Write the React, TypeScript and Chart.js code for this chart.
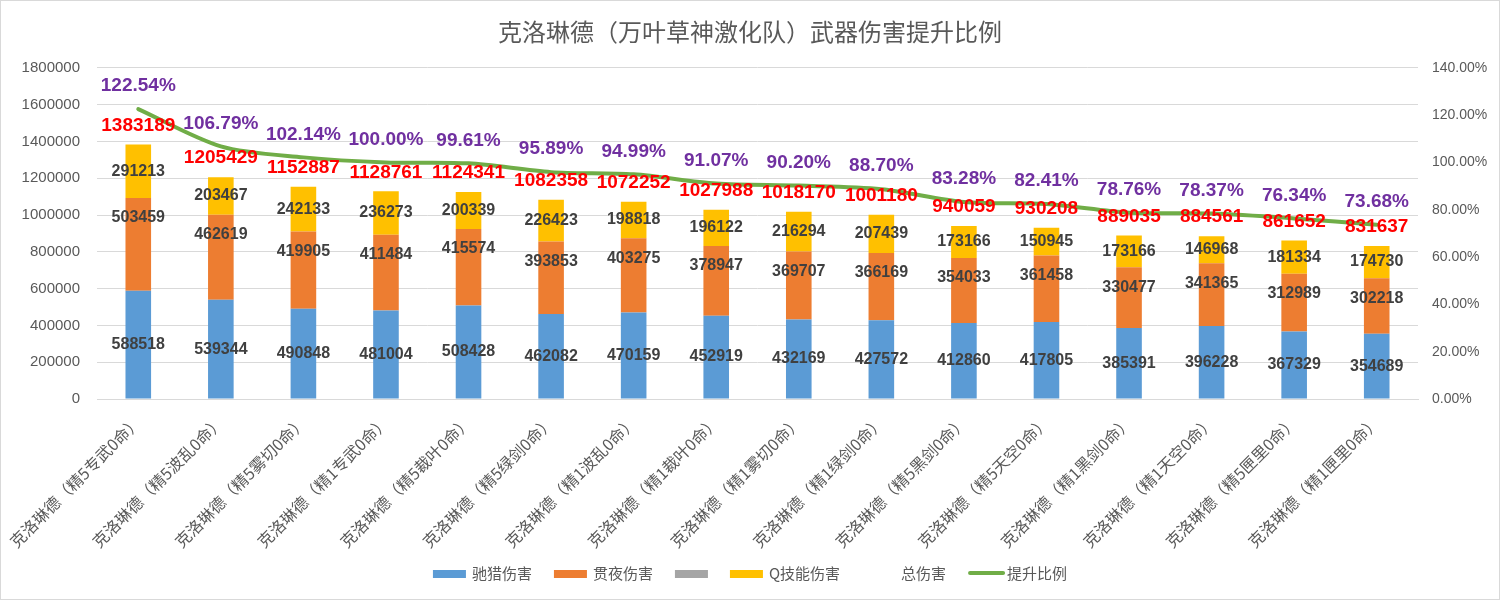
import React, { useEffect, useRef } from "react";
import { Chart, registerables } from "chart.js";

Chart.register(...registerables);

const categories = [
  "克洛琳德（精5专武0命）",
  "克洛琳德（精5波乱0命）",
  "克洛琳德（精5雾切0命）",
  "克洛琳德（精1专武0命）",
  "克洛琳德（精5裁叶0命）",
  "克洛琳德（精5绿剑0命）",
  "克洛琳德（精1波乱0命）",
  "克洛琳德（精1裁叶0命）",
  "克洛琳德（精1雾切0命）",
  "克洛琳德（精1绿剑0命）",
  "克洛琳德（精5黑剑0命）",
  "克洛琳德（精5天空0命）",
  "克洛琳德（精1黑剑0命）",
  "克洛琳德（精1天空0命）",
  "克洛琳德（精5匣里0命）",
  "克洛琳德（精1匣里0命）",
];

const chiLieDamage = [588518, 539344, 490848, 481004, 508428, 462082, 470159, 452919, 432169, 427572, 412860, 417805, 385391, 396228, 367329, 354689];
const guanYeDamage = [503459, 462619, 419905, 411484, 415574, 393853, 403275, 378947, 369707, 366169, 354033, 361458, 330477, 341365, 312989, 302218];
const grayDamage = [0, 0, 0, 0, 0, 0, 0, 0, 0, 0, 0, 0, 0, 0, 0, 0];
const qSkillDamage = [291213, 203467, 242133, 236273, 200339, 226423, 198818, 196122, 216294, 207439, 173166, 150945, 173166, 146968, 181334, 174730];
const totalDamage = [1383189, 1205429, 1152887, 1128761, 1124341, 1082358, 1072252, 1027988, 1018170, 1001180, 940059, 930208, 889035, 884561, 861652, 831637];
const boostRatio = [122.54, 106.79, 102.14, 100.0, 99.61, 95.89, 94.99, 91.07, 90.2, 88.7, 83.28, 82.41, 78.76, 78.37, 76.34, 73.68];

const leftAxisMax = 1800000;
const leftAxisStep = 200000;
const rightAxisMax = 140;
const rightAxisStep = 20;

const TITLE = "克洛琳德（万叶草神激化队）武器伤害提升比例";
const LATIN = "'Liberation Sans', 'Noto Sans CJK SC', sans-serif";
const CJK = "'Noto Sans CJK SC', 'Liberation Sans', sans-serif";

const COLORS = {
  chiLie: "#5b9bd5",
  guanYe: "#ed7d31",
  gray: "#a5a5a5",
  q: "#ffc000",
  ratio: "#70ad47",
  total: "#ff0000",
  ratioLabel: "#7030a0",
  text: "#595959",
  inner: "#404040",
  grid: "#d9d9d9",
};

const bgPlugin = {
  id: "bgBorder",
  beforeDraw(chart: any) {
    const { ctx, width, height } = chart;
    ctx.save();
    ctx.fillStyle = "#ffffff";
    ctx.fillRect(0, 0, width, height);
    ctx.restore();
  },
  afterDraw(chart: any) {
    const { ctx, width, height } = chart;
    ctx.save();
    ctx.strokeStyle = COLORS.grid;
    ctx.lineWidth = 1;
    ctx.strokeRect(0.5, 0.5, width - 1, height - 1);
    ctx.restore();
  },
};

// Legend drawn from the chart's datasets (Excel style: wide flat boxes)
const legendPlugin = {
  id: "excelLegend",
  afterDraw(chart: any) {
    const { ctx } = chart;
    const ds = chart.data.datasets;
    const boxW = 33;
    const boxH = 8;
    const textGap = 6;
    const itemGap = 22;
    const cy = 573;
    ctx.save();
    ctx.font = `15px ${CJK}`;
    ctx.textBaseline = "middle";
    ctx.textAlign = "left";
    const widths = ds.map((d: any) => {
      const tw = d.label ? ctx.measureText(d.label).width : 0;
      return boxW + (d.label ? textGap + tw : 0);
    });
    const total = widths.reduce((a: number, b: number) => a + b, 0) + itemGap * (ds.length - 1);
    let x = (chart.width - total) / 2;
    ds.forEach((d: any, i: number) => {
      if (d.legendKind === "rect") {
        ctx.fillStyle = d.backgroundColor;
        ctx.fillRect(x, cy - boxH / 2 + 1, boxW, boxH);
      } else if (d.legendKind === "line") {
        ctx.strokeStyle = d.borderColor;
        ctx.lineWidth = 4;
        ctx.lineCap = "round";
        ctx.beginPath();
        ctx.moveTo(x + 2, cy);
        ctx.lineTo(x + boxW + 2, cy);
        ctx.stroke();
      }
      if (d.label) {
        ctx.fillStyle = COLORS.text;
        ctx.fillText(d.label, x + boxW + textGap, cy);
      }
      x += widths[i] + itemGap;
    });
    ctx.restore();
  },
};

const valueLabelPlugin = {
  id: "valueLabels",
  afterDatasetsDraw(chart: any) {
    const { ctx } = chart;
    ctx.save();
    ctx.textAlign = "center";
    ctx.textBaseline = "middle";

    const barSets: Array<[number, string]> = [
      [0, "center"],
      [1, "top"],
      [3, "center"],
    ];
    ctx.font = `bold 16px ${LATIN}`;
    ctx.fillStyle = COLORS.inner;
    barSets.forEach(([di, mode]) => {
      if (!chart.isDatasetVisible(di)) return;
      const meta = chart.getDatasetMeta(di);
      meta.data.forEach((el: any, i: number) => {
        const p = el.getProps(["x", "y", "base"], true);
        const ty = mode === "center" ? (p.y + p.base) / 2 : p.y + 20;
        ctx.fillText(String(chart.data.datasets[di].data[i]), p.x, ty);
      });
    });

    if (chart.isDatasetVisible(4)) {
      ctx.font = `bold 19px ${LATIN}`;
      ctx.fillStyle = COLORS.total;
      chart.getDatasetMeta(4).data.forEach((el: any, i: number) => {
        const p = el.getProps(["x", "y"], true);
        ctx.fillText(String(chart.data.datasets[4].data[i]), p.x, p.y - 19);
      });
    }
    if (chart.isDatasetVisible(5)) {
      ctx.font = `bold 19px ${LATIN}`;
      ctx.fillStyle = COLORS.ratioLabel;
      chart.getDatasetMeta(5).data.forEach((el: any, i: number) => {
        const p = el.getProps(["x", "y"], true);
        const v = chart.data.datasets[5].data[i] as number;
        ctx.fillText(`${v.toFixed(2)}%`, p.x, p.y - 23);
      });
    }
    ctx.restore();
  },
};

export default function App() {
  const canvasRef = useRef<HTMLCanvasElement | null>(null);

  useEffect(() => {
    if (!canvasRef.current) return;
    const barCommon = { type: "bar", yAxisID: "y", stack: "s", order: 1, barPercentage: 0.31, categoryPercentage: 1, legendKind: "rect" };
    const chart = new Chart(canvasRef.current, {
      type: "bar",
      data: {
        labels: categories,
        datasets: [
          { ...barCommon, label: "驰猎伤害", data: chiLieDamage, backgroundColor: COLORS.chiLie },
          { ...barCommon, label: "贯夜伤害", data: guanYeDamage, backgroundColor: COLORS.guanYe },
          { ...barCommon, label: "", data: grayDamage, backgroundColor: COLORS.gray },
          { ...barCommon, label: "Q技能伤害", data: qSkillDamage, backgroundColor: COLORS.q },
          { type: "line", label: "总伤害", data: totalDamage, yAxisID: "y", stack: "total", showLine: false, pointRadius: 0, borderColor: "rgba(0,0,0,0)", backgroundColor: "rgba(0,0,0,0)", order: 0, legendKind: "none" },
          { type: "line", label: "提升比例", data: boostRatio, yAxisID: "y1", borderColor: COLORS.ratio, backgroundColor: COLORS.ratio, borderWidth: 4, pointRadius: 0, tension: 0.3, order: 0, borderCapStyle: "round", legendKind: "line" },
        ] as any,
      },
      options: {
        responsive: false,
        animation: false,
        events: [],
        layout: { padding: { top: 0, left: 0, right: 0, bottom: 49 } },
        plugins: {
          tooltip: { enabled: false },
          legend: { display: false },
          title: {
            display: true,
            text: TITLE,
            color: COLORS.text,
            font: { size: 24, family: CJK, weight: "normal" },
            padding: { top: 17, bottom: 22 },
          },
        },
        scales: {
          x: {
            stacked: true,
            grid: { display: false, drawTicks: false },
            border: { display: true, color: COLORS.grid },
            ticks: {
              autoSkip: false,
              minRotation: 45,
              maxRotation: 45,
              color: COLORS.text,
              font: { size: 16, family: CJK },
              padding: 13,
            },
            afterFit: (scale: any) => {
              scale.height = 152;
              scale.paddingLeft = 0;
              scale.paddingRight = 0;
            },
          },
          y: {
            stacked: true,
            position: "left",
            min: 0,
            max: leftAxisMax,
            grid: { color: COLORS.grid, drawTicks: false, lineWidth: 1 },
            border: { display: false },
            ticks: {
              stepSize: leftAxisStep,
              color: COLORS.text,
              font: { size: 15, family: LATIN },
              padding: 17,
              callback: (v: any) => String(v),
            },
            afterFit: (scale: any) => {
              scale.width = 97;
            },
          },
          y1: {
            position: "right",
            min: 0,
            max: rightAxisMax,
            grid: { display: false, drawTicks: false },
            border: { display: false },
            ticks: {
              stepSize: rightAxisStep,
              color: COLORS.text,
              font: { size: 14, family: LATIN },
              padding: 14,
              callback: (v: any) => `${Number(v).toFixed(2)}%`,
            },
            afterFit: (scale: any) => {
              scale.width = 82;
            },
          },
        },
      } as any,
      plugins: [bgPlugin, valueLabelPlugin, legendPlugin],
    });
    return () => chart.destroy();
  }, []);

  return (
    <div style={{ position: "absolute", left: 0, top: 0, width: 1500, height: 600 }}>
      <canvas ref={canvasRef} width={1500} height={600} style={{ display: "block" }} />
    </div>
  );
}
